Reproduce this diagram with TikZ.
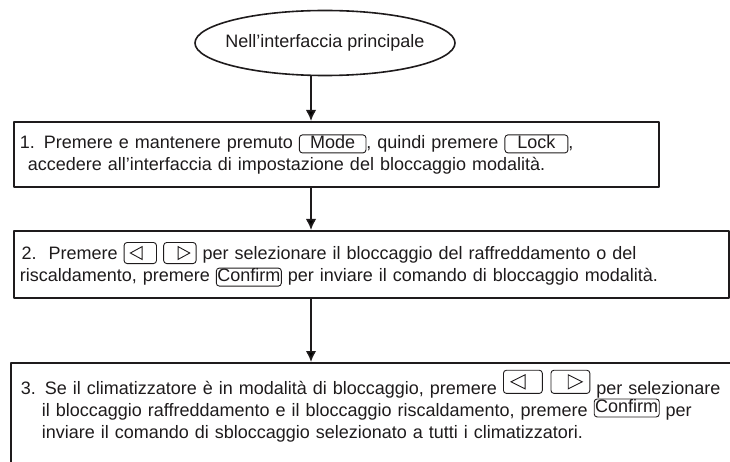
\documentclass[tikz,border=0pt]{standalone}
\usepackage{fontspec}
\setmainfont{Liberation Sans}
\usetikzlibrary{arrows.meta,shapes.geometric}

\definecolor{ink}{RGB}{30,27,28}

\tikzset{
  stepbox/.style={draw=ink, line width=1.6pt, anchor=north west, align=left,
    inner xsep=6pt, text=ink, font=\fontsize{18}{22}\selectfont},
  flow/.style={draw=ink, line width=1.6pt, -{Latex[length=11pt,width=10.5pt]}},
  keybox/.style={draw=ink, line width=0.9pt, rounded corners=3pt, inner xsep=1pt,
    inner ysep=1pt, text width={}, text height=12.5pt, text depth=3.5pt,
    minimum height=0pt, anchor=base, align=center}
}

% key with a label: [lift]{min width}{label}
\newcommand{\keycap}[3][0pt]{\tikz[baseline={([yshift=-#1]kc.base)}]\node[keybox,minimum width=#2](kc){#3};}
% the two arrow keys: [lift]{xscale}{yscale}
\newcommand{\arrowkeys}[3][0pt]{%
  \tikz[baseline={(0,-#1)}, xscale=#2, yscale=#3, line width=0.9pt]{
    \draw[ink,rounded corners=3pt] (0,-0.22em) rectangle (1.8em,0.95em);
    \draw[ink,line join=miter] (0.35em,0.365em) -- (1.0em,0.72em) -- (1.0em,0.01em) -- cycle;
    \draw[ink,rounded corners=3pt] (2.2em,-0.22em) rectangle (4.0em,0.95em);
    \draw[ink,line join=miter] (3.65em,0.365em) -- (3.0em,0.72em) -- (3.0em,0.01em) -- cycle;}}

\begin{document}
\begin{tikzpicture}[x=1pt,y=-1pt,line join=round]
  \useasboundingbox (0,0) rectangle (730,462);
  \clip (0,0) rectangle (730,462);

  % Start
  \node[draw=ink, line width=1.6pt, ellipse, inner xsep=-20pt, inner ysep=0pt,
    minimum width=260pt, minimum height=65pt,
    text=ink, font=\fontsize{18}{22}\selectfont] (start) at (325,43) {Nell’interfaccia principale};
  \coordinate (axis) at (311,0);

  % Step 1
  \node[stepbox, text width=633pt, minimum height=65pt] (step1) at (13,121)
    {1. Premere e mantenere premuto \keycap{3.7em}{Mode}, quindi premere \keycap{3.5em}{Lock},\\
     \hspace*{0.45em}accedere all’interfaccia di impostazione del bloccaggio modalità.};

  % Step 2
  \node[stepbox, text width=703pt, minimum height=67pt] (step2) at (13,230)
    {\hspace*{0.1em}2.\ \ Premere \arrowkeys{1}{1} per selezionare il bloccaggio del raffreddamento o del\\
     riscaldamento, premere \keycap{0pt}{Confirm} per inviare il comando di bloccaggio modalità.};

  % Step 3 (runs off the page)
  \node[stepbox, inner xsep=10pt, inner ysep=7pt, text width=740pt, text depth=110pt] (step3) at (10,362)
    {3. Se il climatizzatore è in modalità di bloccaggio, premere \arrowkeys[0.3em]{1.2}{1.1} per selezionare\\
     \phantom{3.}\ il bloccaggio raffreddamento e il bloccaggio riscaldamento, premere \keycap[4pt]{0pt}{Confirm} per\\
     \phantom{3.}\ inviare il comando di sbloccaggio selezionato a tutti i climatizzatori.};

  % Connectors
  \draw[flow] (start.south -| axis) -- (step1.north -| axis);
  \draw[flow] (step1.south -| axis) -- (step2.north -| axis);
  \draw[flow] (step2.south -| axis) -- (step3.north -| axis);
\end{tikzpicture}
\end{document}
